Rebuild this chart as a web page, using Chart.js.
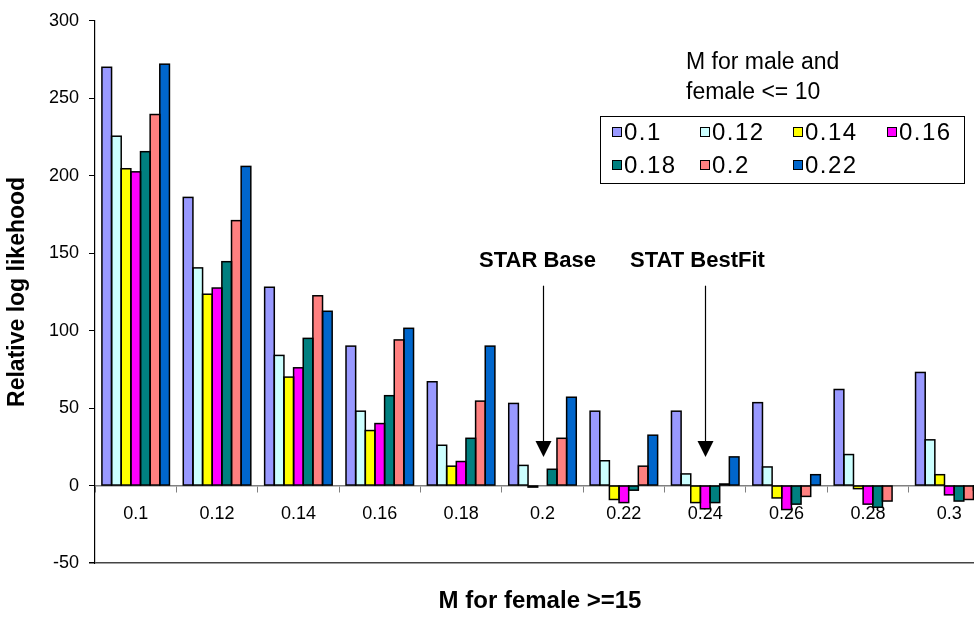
<!DOCTYPE html>
<html>
<head>
<meta charset="utf-8">
<script src="https://cdn.jsdelivr.net/npm/chart.js@4/dist/chart.umd.min.js"></script>
<style>
  html, body { margin: 0; padding: 0; background: #fff; overflow: hidden; }
  #wrap { width: 1000px; height: 617px; position: relative; }
</style>
</head>
<body>
<div id="wrap"><canvas id="chart"></canvas></div>
<script>
// categories along the x axis (M for female >= 15)
const categories = ['0.1', '0.12', '0.14', '0.16', '0.18', '0.2', '0.22', '0.24', '0.26', '0.28', '0.3']

// one series per M for male and female <= 10
const seriesNames = ['0.1', '0.12', '0.14', '0.16', '0.18', '0.2', '0.22']
const m010 = [270, 186, 128, 90, 67, 53, 48, 48, 53.5, 62, 73]
const m012 = [225.5, 140.5, 84, 48, 26, 13, 16, 7.5, 12, 20, 29.5]
const m014 = [204.5, 123.5, 70, 35.5, 12.5, -1, -9, -11, -8, -2, 7]
const m016 = [202.5, 127.5, 76, 40, 15.5, 0, -11, -15, -15.5, -12, -6]
const m018 = [215.5, 144.5, 95, 58, 30.5, 10.5, -3, -11, -12, -14, -10]
const m020 = [239.5, 171, 122.5, 94, 54.5, 30.5, 12.5, 1, -7, -10, -9]
const m022 = [272, 206, 112.5, 101.5, 90, 57, 32.5, 18.5, 7, 0, -3]
const seriesValues = [m010, m012, m014, m016, m018, m020, m022]
const seriesColors = ['#9999FF', '#CCFFFF', '#FFFF00', '#FF00FF', '#008080', '#FF8080', '#0066CC']

const yTicks = [300, 250, 200, 150, 100, 50, 0, -50]

Chart.defaults.font.family = '"Liberation Sans", Arial, sans-serif'
Chart.defaults.color = '#000'

// black outline round every bar, like the old excel look
const outlines = {
    id: 'outlines',
    afterDatasetsDraw(chart) {
        const ctx = chart.ctx
        ctx.save()
        ctx.strokeStyle = '#000'
        ctx.lineWidth = 1.5
        chart.data.datasets.forEach((ds, i) => {
            chart.getDatasetMeta(i).data.forEach(bar => {
                const p = bar.getProps(['x', 'y', 'base', 'width'], true)
                if (Math.abs(p.base - p.y) < 0.5) return
                const left = p.x - p.width / 2
                const top = Math.min(p.y, p.base)
                ctx.strokeRect(left, top, p.width, Math.abs(p.base - p.y))
            })
        })
        ctx.restore()
    }
}

// legend, arrows and axis title drawn on top
const extras = {
    id: 'extras',
    afterDraw(chart) {
        const ctx = chart.ctx
        const x = chart.scales.x
        const y = chart.scales.y
        ctx.save()
        ctx.fillStyle = '#000'

        // x axis title
        ctx.font = 'bold 24px "Liberation Sans", Arial'
        ctx.textAlign = 'center'
        ctx.textBaseline = 'middle'
        ctx.fillText('M for female >=15', 540, 601)

        // arrows
        ctx.font = 'bold 22px "Liberation Sans", Arial'
        const arrows = [
            { label: 'STAR Base', cat: 5, dx: -5 },
            { label: 'STAT BestFit', cat: 7, dx: -7 }
        ]
        arrows.forEach(a => {
            const ax = Math.round(x.getPixelForValue(a.cat)) + 0.5
            const top = y.getPixelForValue(129)
            const tip = y.getPixelForValue(18.5)
            ctx.fillText(a.label, ax + a.dx - 1, 261)
            ctx.strokeStyle = '#000'
            ctx.lineWidth = 1.2
            ctx.beginPath()
            ctx.moveTo(ax, top)
            ctx.lineTo(ax, tip - 14)
            ctx.stroke()
            ctx.beginPath()
            ctx.moveTo(ax - 8, tip - 16)
            ctx.lineTo(ax + 8, tip - 16)
            ctx.lineTo(ax, tip)
            ctx.closePath()
            ctx.fill()
        })

        // legend title
        ctx.font = '23px "Liberation Sans", Arial'
        ctx.textAlign = 'left'
        ctx.fillText('M for male and', 686, 63)
        ctx.fillText('female <= 10', 686, 93)

        // legend box
        ctx.lineWidth = 1
        ctx.fillStyle = '#fff'
        ctx.fillRect(600.5, 116.5, 364, 67)
        ctx.strokeStyle = '#000'
        ctx.strokeRect(600.5, 116.5, 364, 67)
        ctx.font = '24px "Liberation Sans", Arial'
        ctx.letterSpacing = '1.5px'
        const colX = [612, 700, 793, 887]
        const rowY = [132, 165]
        seriesNames.forEach((name, i) => {
            const sx = colX[i % 4]
            const sy = rowY[Math.floor(i / 4)]
            ctx.fillStyle = seriesColors[i]
            ctx.fillRect(sx + 0.5, sy - 4.5, 9, 9)
            ctx.strokeRect(sx + 0.5, sy - 4.5, 9, 9)
            ctx.fillStyle = '#000'
            ctx.fillText(name, sx + 12, sy + 1)
        })
        ctx.restore()
    }
}

const datasets = seriesNames.map((name, i) => ({
    label: name,
    data: seriesValues[i],
    backgroundColor: seriesColors[i],
    borderWidth: 0,
    inflateAmount: 0,
    barPercentage: 1,
    categoryPercentage: 0.83
}))

new Chart('chart', {
    type: 'bar',
    data: { labels: categories, datasets },
    options: {
        responsive: true,
        maintainAspectRatio: false,
        animation: false,
        layout: { padding: { top: 18, bottom: 54, right: 10, left: 0 } },
        plugins: {
            legend: { display: false },
            tooltip: { enabled: false }
        },
        scales: {
            x: {
                position: { y: 0 },
                offset: true,
                grid: { offset: true, drawOnChartArea: false, tickLength: 6, color: '#808080' },
                border: { color: '#808080', width: 1.5 },
                ticks: { font: { size: 18 }, padding: 12, maxRotation: 0, autoSkip: false }
            },
            y: {
                min: -50,
                max: 300,
                afterFit: s => { s.width = 95 },
                afterBuildTicks: s => { s.ticks = yTicks.map(v => ({ value: v })) },
                grid: {
                    color: c => (c.tick && c.tick.value === -50) ? '#444' : 'rgba(0,0,0,0)',
                    lineWidth: c => (c.tick && c.tick.value === -50) ? 1.5 : 1,
                    tickColor: '#000',
                    tickLength: 6
                },
                border: { color: '#000', width: 1.2 },
                ticks: { font: { size: 18 }, padding: 10 },
                title: {
                    display: true,
                    text: 'Relative log likehood',
                    font: { size: 23, weight: 'bold' },
                    padding: { top: 4, bottom: 4 }
                }
            }
        }
    },
    plugins: [outlines, extras]
})
</script>
</body>
</html>
